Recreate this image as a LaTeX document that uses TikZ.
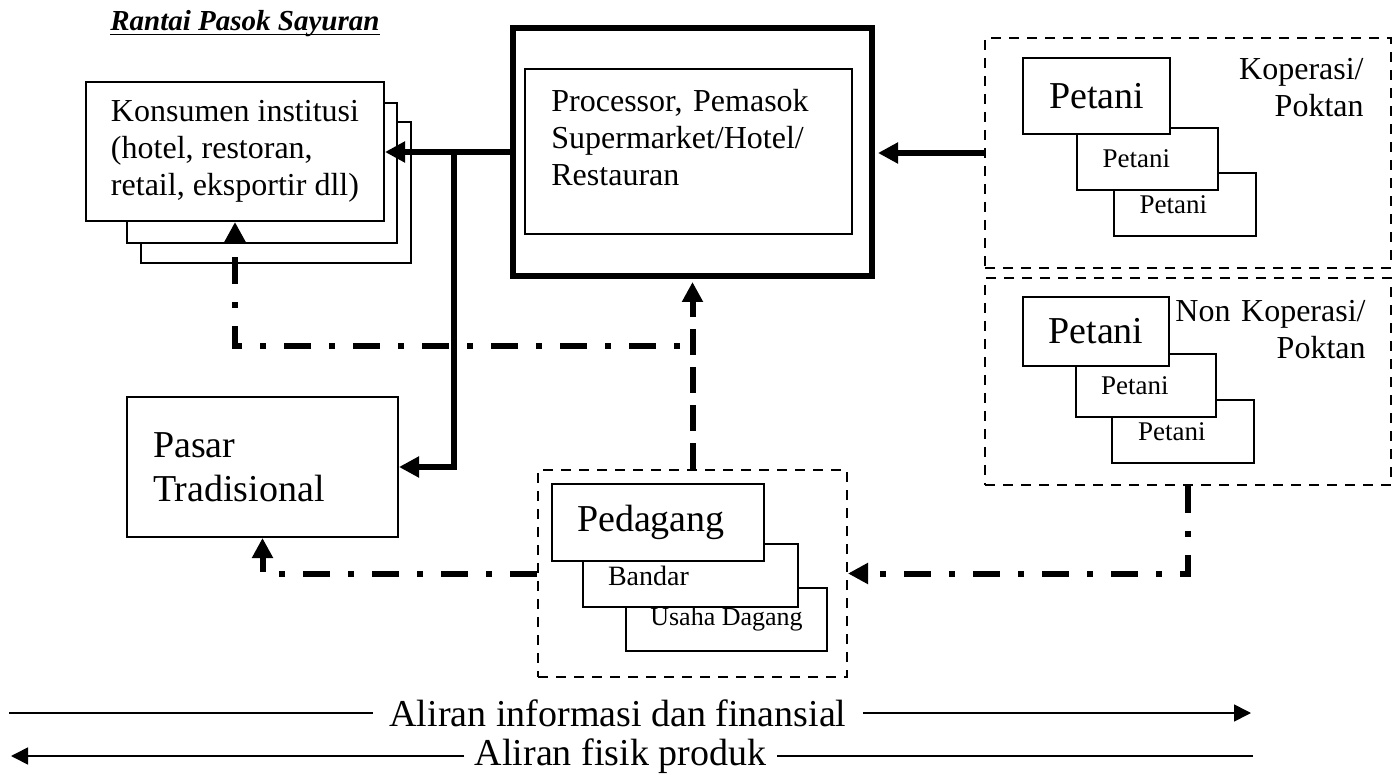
\documentclass[tikz,border=0pt]{standalone}
\usepackage{fontspec}
\setmainfont{Liberation Serif}
\usetikzlibrary{arrows.meta}
\tikzset{
  box/.style={draw, line width=1pt, fill=white, inner sep=0pt},
  groupbox/.style={draw, line width=1pt, dash pattern=on 5pt off 4pt, inner sep=0pt},
  flow/.style={line width=3pt, -{Triangle[length=10pt,width=10pt]}},
  dashflow/.style={flow, dash pattern=on 13pt off 6pt},
  infoflow/.style={flow, dash pattern=on 13.5pt off 9pt on 3pt off 9pt},
  legendline/.style={line width=0.8pt},
  big/.style={font=\fontsize{19}{22}\selectfont},
  mid/.style={font=\fontsize{16}{18.5}\selectfont},
  small/.style={font=\fontsize{13.5}{16}\selectfont},
  petani/.style={box, small, minimum width=71pt, minimum height=31.5pt, text width=45pt, align=left}
}
\begin{document}
\begin{tikzpicture}[x=0.5pt, y=-0.5pt]
        \useasboundingbox (0,0) rectangle (1399,775);

        \node[anchor=base west, inner sep=0pt, font=\fontsize{14.5}{17}\selectfont] (title) at (110,31) {\textbf{\textit{Rantai Pasok Sayuran}}};
        \draw[line width=0.9pt] ([yshift=-1.8pt]title.base west) -- ([yshift=-1.8pt]title.base east);

        \node at (276,192.5) [box, minimum width=135pt, minimum height=70.5pt] (kons3) {};
        \node at (262,173) [box, minimum width=135pt, minimum height=70pt] (kons2) {};
        \node at (235,151.5) [box, mid, minimum width=149pt, minimum height=69.5pt, align=left] (kons) {Konsumen institusi\\(hotel, restoran,\\retail, eksportir dll)};

        \node at (692.5,152) [box, line width=3pt, minimum width=179.5pt, minimum height=124pt] (proc) {};
        \node at (688.5,151.5) [box, minimum width=163.5pt, minimum height=82.5pt] (procin) {};
        \node at (551,112) [anchor=base west, mid, text width=140pt, align=left, inner sep=0pt] (proctext) {Processor, Pemasok\\Supermarket/Hotel/\\Restauran};

        \node at (262.5,467) [box, big, minimum width=135.5pt, minimum height=70pt, text width=109.5pt, align=left] (pasar) {Pasar\\Tradisional};

        \node at (1188,153) [groupbox, minimum width=203pt, minimum height=115pt] (kop) {};
        \node at (1364,80) [anchor=base east, mid, text width=70pt, align=right, inner sep=0pt] (koplabel) {Koperasi/\\Poktan};
        \node at (1184.5,204.5) [petani] (kp3) {Petani};
        \node at (1147.5,159) [petani, minimum width=70.5pt, minimum height=31pt] (kp2) {Petani};
        \node at (1096.5,96) [box, big, minimum width=73.5pt, minimum height=38pt] (kp1) {Petani};

        \node at (1188,381.5) [groupbox, minimum width=203pt, minimum height=103.5pt] (nonkop) {};
        \node at (1366,322) [anchor=base east, mid, text width=100pt, align=right, inner sep=0pt] (nonkoplabel) {Non Koperasi/\\Poktan};
        \node at (1183,431.5) [petani] (np3) {Petani};
        \node at (1146,385.5) [petani, minimum width=70pt] (np2) {Petani};
        \node at (1096,331.5) [box, big, minimum width=73pt, minimum height=34.5pt] (np1) {Petani};

        \node at (692.5,573.5) [groupbox, minimum width=154.5pt, minimum height=103.5pt] (ped) {};
        \node at (726.5,619.5) [box, font=\fontsize{13}{15}\selectfont, minimum width=100.5pt, minimum height=31.5pt] (usaha) {Usaha Dagang};
        \node at (690.5,575.5) [box, font=\fontsize{14}{16}\selectfont, minimum width=107.5pt, minimum height=31.5pt, text width=82.5pt, align=left] (bandar) {Bandar};
        \node at (658,522.5) [box, big, minimum width=106pt, minimum height=38.5pt, text width=81pt, align=left] (pedagang) {Pedagang};

        \coordinate (split) at (454,152);
        \coordinate (join) at (695,346);

        \draw[flow] (proc.west) -- (proc.west -| kons.east);
        \draw[flow] (split) |- (pasar.east);
        \draw[flow, shorten >=1.5pt] (kop.west) -- (kop.west -| proc.east);
        \draw[dashflow, shorten >=1.5pt] (ped.north) -- (proc.south);
        \draw[infoflow, dash phase=15pt] (join) -| (kons.south);
        \draw[infoflow] (nonkop.south) |- (ped.east);
        \draw[infoflow] (ped.west) -| (pasar.south);

        \node at (618,713) [big, inner xsep=8pt] (info) {Aliran informasi dan finansial};
        \node at (620.5,756) [big, inner xsep=5pt] (phys) {Aliran fisik produk};
        \coordinate (infoL) at (9,713);
        \coordinate (infoR) at (1251,713);
        \coordinate (physL) at (11,756);
        \coordinate (physR) at (1253,756);

        \draw[legendline] (infoL) -- (info.west);
        \draw[legendline, -{Triangle[length=8.5pt,width=8.5pt]}] (info.east) -- (infoR);
        \draw[legendline, -{Triangle[length=8.5pt,width=8.5pt]}] (phys.west) -- (physL);
        \draw[legendline] (physR) -- (phys.east);
\end{tikzpicture}
\end{document}
